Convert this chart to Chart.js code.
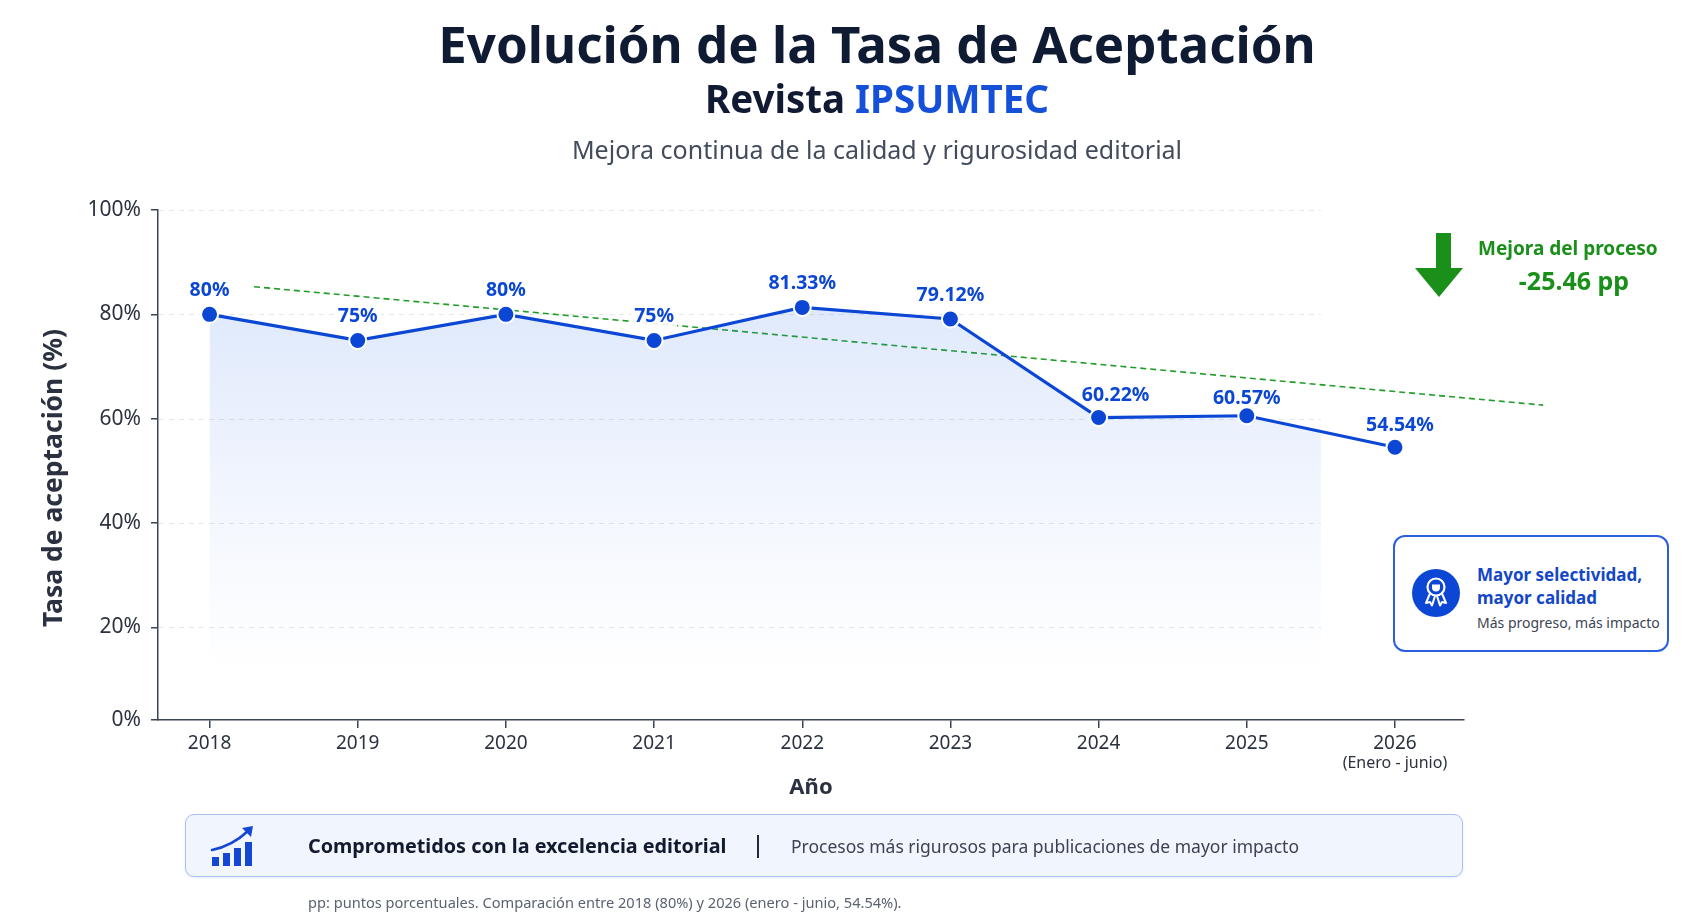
<!DOCTYPE html>
<html lang="es">
<head>
<meta charset="utf-8">
<title>Evolución de la Tasa de Aceptación</title>
<script src="https://cdn.jsdelivr.net/npm/chart.js@4.4.1/dist/chart.umd.min.js"></script>
<style>
html,body{margin:0;padding:0;background:#fff;}
body{width:1704px;height:923px;position:relative;overflow:hidden;font-family:'Noto Sans',sans-serif;}
#c{position:absolute;left:0;top:0;width:1704px;height:923px;}
.abs{position:absolute;white-space:nowrap;}
#title{left:277px;width:1200px;top:12px;height:62px;line-height:62px;text-align:center;font-size:51px;font-weight:700;color:#0f1a33;}
#subtitle{left:277px;width:1200px;top:74px;height:48px;line-height:48px;text-align:center;font-size:38.5px;font-weight:700;color:#101a33;}
#subtitle span{color:#1550d8;}
#tagline{left:277px;width:1200px;top:132px;height:34px;line-height:34px;text-align:center;font-size:25px;color:#434b5c;}
#arrow{left:1415px;top:233px;}
#mejora{left:1478px;top:234px;height:28px;line-height:28px;font-size:19px;font-weight:700;color:#1a8f1a;}
#pp{left:1474px;width:200px;text-align:center;top:264px;height:32px;line-height:32px;font-size:25px;font-weight:700;color:#1a8f1a;}
#box{left:1393px;top:535px;width:272px;height:113px;border:2px solid #2c5fe0;border-radius:12px;background:#fff;}
#award{left:1412px;top:569px;}
.bx{left:1477px;font-size:17px;font-weight:700;color:#1447c8;height:24px;line-height:24px;}
#bx1{top:563px;}
#bx2{top:586px;}
#bx3{left:1477px;top:612px;height:22px;line-height:22px;font-size:14px;color:#3d4454;}
#banner{left:185px;top:814px;width:1276px;height:61px;border:1.5px solid #a9c1ee;border-radius:9px;background:#f0f5fe;box-shadow:0 1px 3px rgba(40,80,160,0.12);}
#barsicon{left:208px;top:822px;}
#b1{left:308px;top:831px;height:30px;line-height:30px;font-size:19.8px;font-weight:700;color:#111a2e;}
#sep{left:757px;top:835px;width:1.6px;height:23px;background:#222a38;}
#b2{left:791px;top:831px;height:30px;line-height:30px;font-size:17.5px;color:#3b4252;}
#foot{left:308px;top:892px;height:20px;line-height:20px;font-size:14.6px;color:#5b6272;}
</style>
</head>
<body>
<canvas id="c" width="1704" height="923"></canvas>

<div id="title" class="abs">Evolución de la Tasa de Aceptación</div>
<div id="subtitle" class="abs">Revista <span>IPSUMTEC</span></div>
<div id="tagline" class="abs">Mejora continua de la calidad y rigurosidad editorial</div>

<svg id="arrow" class="abs" width="48" height="65" viewBox="0 0 48 65">
  <rect x="21" y="0" width="15" height="36" fill="#1a8f1a"/>
  <polygon points="0,35 48,35 24,64" fill="#1a8f1a"/>
</svg>
<div id="mejora" class="abs">Mejora del proceso</div>
<div id="pp" class="abs">-25.46 pp</div>

<div id="box" class="abs"></div>
<svg id="award" class="abs" width="48" height="48" viewBox="0 0 48 48">
  <circle cx="24" cy="24" r="24" fill="#0b47d4"/>
  <circle cx="24" cy="18" r="8.5" fill="none" stroke="#fff" stroke-width="2.2"/>
  <path d="M20 15.5 h8 v3 a4 4 0 0 1 -8 0 z" fill="#fff"/>
  <path d="M18 24.5 L14 34 L18 33 L20 36.5 L23 27" fill="none" stroke="#fff" stroke-width="2" stroke-linejoin="round"/>
  <path d="M30 24.5 L34 34 L30 33 L28 36.5 L25 27" fill="none" stroke="#fff" stroke-width="2" stroke-linejoin="round"/>
</svg>
<div id="bx1" class="abs bx">Mayor selectividad,</div>
<div id="bx2" class="abs bx">mayor calidad</div>
<div id="bx3" class="abs">Más progreso, más impacto</div>

<div id="banner" class="abs"></div>
<svg id="barsicon" class="abs" width="50" height="48" viewBox="0 0 50 48">
  <rect x="4" y="35" width="7" height="9" fill="#1447d4"/>
  <rect x="15" y="31" width="7" height="13" fill="#1447d4"/>
  <rect x="26" y="26" width="7" height="18" fill="#1447d4"/>
  <rect x="37" y="20" width="7" height="24" fill="#1447d4"/>
  <path d="M4 28 Q 24 24 40 9" fill="none" stroke="#1447d4" stroke-width="2.6" stroke-linecap="round"/>
  <polygon points="34,6 45,4 43,15" fill="#1447d4"/>
</svg>
<div id="b1" class="abs">Comprometidos con la excelencia editorial</div>
<div id="sep" class="abs"></div>
<div id="b2" class="abs">Procesos más rigurosos para publicaciones de mayor impacto</div>
<div id="foot" class="abs">pp: puntos porcentuales. Comparación entre 2018 (80%) y 2026 (enero - junio, 54.54%).</div>

<script>
// ---- Data ----
const years = [2018, 2019, 2020, 2021, 2022, 2023, 2024, 2025, 2026];
const rates = [80, 75, 80, 75, 81.33, 79.12, 60.22, 60.57, 54.54];
const rateLabels = ['80%', '75%', '80%', '75%', '81.33%', '79.12%', '60.22%', '60.57%', '54.54%'];
const trendX = [2018.3, 2027.0];
const trendY = [85.3, 62.6];
const yTickValues = [20, 40, 60, 80, 100];
const yBottomLabel = '0%';
const lastYearNote = '(Enero - junio)';
const yAxisTitle = 'Tasa de aceptación (%)';
const xAxisTitle = 'Año';

// ---- Styles ----
const BLUE = '#0b47d4';
const AXIS = '#3c4354';
const TEXT = '#2b3140';
const FONT = "'Noto Sans', sans-serif";
const Y_MIN = 2.26; // bottom edge of the axis as drawn in the reference
Chart.defaults.font.family = FONT;

const mainData = years.map((x, i) => ({x: x, y: rates[i]}));
const trendData = trendX.map((x, i) => ({x: x, y: trendY[i]}));

let patternCache = {key: null, pattern: null};
function cutPixel(chart) {
  const xs = chart.scales.x;
  return (xs.getPixelForValue(years[years.length - 2]) + xs.getPixelForValue(years[years.length - 1])) / 2;
}
function fillPattern(context) {
  const chart = context.chart;
  const area = chart.chartArea;
  if (!area || !chart.scales.y) return 'rgba(0,0,0,0)';
  const key = [chart.width, chart.height, area.left, area.top, area.right, area.bottom].join(',');
  if (patternCache.key === key) return patternCache.pattern;
  const ys = chart.scales.y;
  const c = document.createElement('canvas');
  c.width = chart.width; c.height = chart.height;
  const g = c.getContext('2d');
  const grad = g.createLinearGradient(0, ys.getPixelForValue(85), 0, ys.getPixelForValue(12));
  grad.addColorStop(0, 'rgba(59,120,235,0.17)');
  grad.addColorStop(0.6, 'rgba(59,120,235,0.06)');
  grad.addColorStop(1, 'rgba(59,120,235,0)');
  g.fillStyle = grad;
  g.fillRect(0, 0, cutPixel(chart), chart.height);
  const p = chart.ctx.createPattern(c, 'no-repeat');
  patternCache = {key: key, pattern: p};
  return p;
}

const gridPlugin = {
  id: 'partialGrid',
  beforeDatasetsDraw(chart) {
    const {ctx, chartArea} = chart;
    const ys = chart.scales.y;
    const right = cutPixel(chart);
    ctx.save();
    ctx.strokeStyle = '#e4e7ec';
    ctx.lineWidth = 1;
    ctx.setLineDash([5, 5]);
    yTickValues.forEach(v => {
      const py = Math.round(ys.getPixelForValue(v)) + 0.5;
      ctx.beginPath();
      ctx.moveTo(chartArea.left + 1, py);
      ctx.lineTo(right, py);
      ctx.stroke();
    });
    ctx.restore();
  }
};

const labelOffsets = {6: [17, -22], 7: [0, -17], 8: [5, -22]};
const labelPlugin = {
  id: 'pointLabels',
  afterDatasetDraw(chart, args) {
    if (args.index !== 1) return;
    const meta = chart.getDatasetMeta(0);
    const ctx = chart.ctx;
    ctx.save();
    ctx.font = 'bold 19.5px ' + FONT;
    ctx.textAlign = 'center';
    ctx.textBaseline = 'middle';
    meta.data.forEach((pt, i) => {
      const off = labelOffsets[i] || [0, -24];
      const tx = pt.x + off[0], ty = pt.y + off[1];
      const w = ctx.measureText(rateLabels[i]).width;
      ctx.fillStyle = 'rgba(255,255,255,0.9)';
      ctx.fillRect(tx - w / 2 - 3, ty - 11, w + 6, 22);
      ctx.fillStyle = BLUE;
      ctx.fillText(rateLabels[i], tx, ty);
    });
    ctx.restore();
  },
  afterDraw(chart) {
    const ctx = chart.ctx;
    const xs = chart.scales.x;
    const area = chart.chartArea;
    ctx.save();
    ctx.font = '16px ' + FONT;
    ctx.fillStyle = TEXT;
    ctx.textAlign = 'center';
    ctx.textBaseline = 'middle';
    ctx.fillText(lastYearNote, xs.getPixelForValue(years[years.length - 1]), xs.top + 43.5);
    // y axis title
    ctx.font = 'bold 26.5px ' + FONT;
    ctx.translate(54, (area.top + area.bottom) / 2 + 13);
    ctx.rotate(-Math.PI / 2);
    ctx.fillText(yAxisTitle, 0, 0);
    ctx.restore();
  }
};

new Chart(document.getElementById('c'), {
  type: 'line',
  data: {
    datasets: [
      {
        label: 'Tasa de aceptación',
        data: mainData,
        borderColor: BLUE,
        borderWidth: 3.2,
        backgroundColor: fillPattern,
        fill: 'start',
        tension: 0,
        pointRadius: 8.5,
        pointHoverRadius: 8.5,
        pointBackgroundColor: BLUE,
        pointBorderColor: '#ffffff',
        pointBorderWidth: 2,
        clip: false
      },
      {
        label: 'Tendencia',
        data: trendData,
        borderColor: '#1f9d28',
        borderWidth: 1.6,
        borderDash: [6, 4],
        pointRadius: 0,
        fill: false,
        tension: 0,
        clip: false
      }
    ]
  },
  options: {
    responsive: false,
    animation: false,
    events: [],
    layout: {padding: {left: 20, right: 240, top: 210, bottom: 112}},
    plugins: {legend: {display: false}, tooltip: {enabled: false}, title: {display: false}},
    scales: {
      x: {
        type: 'linear',
        min: 2017.652,
        max: 2026.466,
        afterBuildTicks: (s) => { s.ticks = years.map(v => ({value: v})); },
        afterFit: (s) => { s.height = 91; },
        ticks: {
          callback: (v) => String(v),
          color: TEXT,
          font: {size: 19},
          padding: 4,
          maxRotation: 0,
          autoSkip: false
        },
        grid: {drawOnChartArea: false, drawTicks: true, tickLength: 8, color: AXIS, lineWidth: 1.5},
        border: {display: true, color: AXIS, width: 1.5},
        title: {display: true, text: xAxisTitle, color: TEXT, font: {size: 22, weight: 'bold'}, padding: {top: 0, bottom: 10}}
      },
      y: {
        min: Y_MIN,
        max: 100,
        afterBuildTicks: (s) => { s.ticks = [{value: Y_MIN}].concat(yTickValues.map(v => ({value: v}))); },
        afterFit: (s) => { s.width = 138; },
        ticks: {
          callback: (v) => (v === Y_MIN ? yBottomLabel : v + '%'),
          color: TEXT,
          font: {size: 21},
          padding: 10
        },
        grid: {drawOnChartArea: false, drawTicks: true, tickLength: 7, color: AXIS, lineWidth: 1.5},
        border: {display: true, color: AXIS, width: 1.5},
        title: {display: false, text: yAxisTitle}
      }
    }
  },
  plugins: [gridPlugin, labelPlugin]
});
</script>
</body>
</html>
